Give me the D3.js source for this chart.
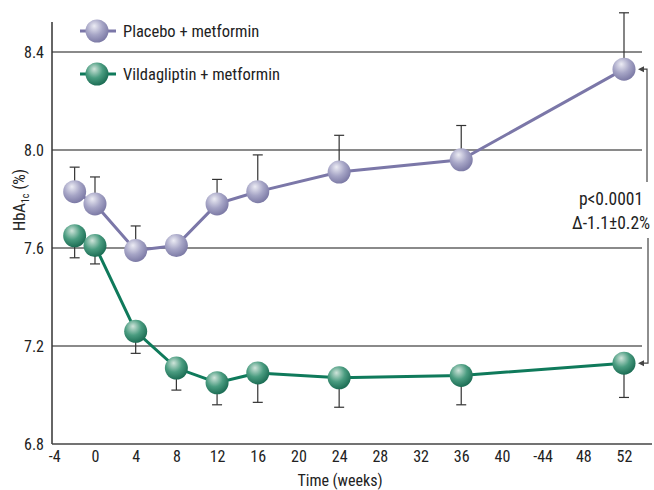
<!DOCTYPE html>
<html><head><meta charset="utf-8">
<script src="https://cdn.jsdelivr.net/npm/d3@7"></script>
<style>body{margin:0;background:#fff}svg{display:block}text{font-family:"Liberation Sans Narrow","Roboto Condensed","Liberation Sans",sans-serif}</style>
</head><body><div id="chart"></div>
<script>
const weeks = [-2, 0, 4, 8, 12, 16, 24, 36, 52];
const placebo = [7.83, 7.78, 7.59, 7.61, 7.78, 7.83, 7.91, 7.96, 8.33];
const placeboUpper = [7.93, 7.89, 7.69, 7.65, 7.88, 7.98, 8.06, 8.10, 8.56];
const vilda = [7.65, 7.61, 7.26, 7.11, 7.05, 7.09, 7.07, 7.08, 7.13];
const vildaLower = [7.56, 7.535, 7.17, 7.02, 6.96, 6.97, 6.95, 6.96, 6.99];
const xTicks = [-4, 0, 4, 8, 12, 16, 20, 24, 28, 32, 36, 40, 44, 48, 52];
const xTickLabels = ["-4","0","4","8","12","16","20","24","28","32","36","40","-44","48","52"];
const yTicks = [6.8, 7.2, 7.6, 8.0, 8.4];
const seriesNames = ["Placebo + metformin", "Vildagliptin + metformin"];

const W = 654, H = 490;
const svg = d3.select("#chart").append("svg").attr("width", W).attr("height", H);
const x = d3.scaleLinear().domain([-4, 52]).range([54.3, 624]);
const y = d3.scaleLinear().domain([6.8, 8.4]).range([444, 52]);
const x0 = 52, x1 = 642;

const defs = svg.append("defs");
function grad(id, hi, mid, lo) {
  const g = defs.append("radialGradient").attr("id", id).attr("cx", "40%").attr("cy", "35%").attr("r", "65%").attr("fx", "38%").attr("fy", "28%");
  g.append("stop").attr("offset", "0%").attr("stop-color", hi);
  g.append("stop").attr("offset", "55%").attr("stop-color", mid);
  g.append("stop").attr("offset", "100%").attr("stop-color", lo);
}
grad("gp", "#ececf4", "#a6a5c6", "#7d7ba6");
grad("gv", "#cfe4da", "#4a9c80", "#1d6e55");

svg.append("g").selectAll("line").data(yTicks.filter(d => d > 6.8)).join("line")
  .attr("x1", x0).attr("x2", x1).attr("y1", d => y(d)).attr("y2", d => y(d))
  .attr("stroke", "#8a8a8a").attr("stroke-width", 2);

const yAxis = d3.axisLeft(y).tickValues(yTicks).tickFormat(d3.format(".1f")).tickSize(0).tickPadding(8);
const gy = svg.append("g").attr("transform", `translate(${x0},0)`).call(yAxis);
gy.select(".domain").remove();
gy.selectAll("text").attr("font-size", 16).attr("fill", "#222");
svg.append("line").attr("x1", x0).attr("x2", x0).attr("y1", 22).attr("y2", 444).attr("stroke", "#333").attr("stroke-width", 1.5);
svg.append("line").attr("x1", x0).attr("x2", 652).attr("y1", 444).attr("y2", 444).attr("stroke", "#444").attr("stroke-width", 1.5);

const xAxis = d3.axisBottom(x).tickValues(xTicks).tickFormat((d, i) => xTickLabels[i]).tickSize(0).tickPadding(7);
const gx = svg.append("g").attr("transform", "translate(0,444)").call(xAxis);
gx.select(".domain").remove();
gx.selectAll("text").attr("font-size", 16).attr("fill", "#222");

svg.append("text").attr("x", 340).attr("y", 486).attr("text-anchor", "middle").attr("font-size", 16).attr("fill", "#222").text("Time (weeks)");
const yl = svg.append("text").attr("transform", "translate(25,200) rotate(-90)").attr("text-anchor", "middle").attr("font-size", 16.5).attr("fill", "#222");
yl.append("tspan").text("HbA");
yl.append("tspan").attr("font-size", 10).attr("dy", 4).text("1c");
yl.append("tspan").attr("dy", -4).text(" (%)");

function errBars(vals, ends) {
  const g = svg.append("g").attr("stroke", "#333").attr("stroke-width", 1.2);
  weeks.forEach((w, i) => {
    g.append("line").attr("x1", x(w)).attr("x2", x(w)).attr("y1", y(vals[i])).attr("y2", y(ends[i]));
    g.append("line").attr("x1", x(w) - 5).attr("x2", x(w) + 5).attr("y1", y(ends[i])).attr("y2", y(ends[i]));
  });
}
errBars(placebo, placeboUpper);
errBars(vilda, vildaLower);

const line = d3.line().x((d, i) => x(weeks[i])).y(d => y(d));
svg.append("path").datum(placebo).attr("d", line).attr("fill", "none").attr("stroke", "#7b77a8").attr("stroke-width", 3);
svg.append("path").datum(vilda).attr("d", line).attr("fill", "none").attr("stroke", "#0f7a5b").attr("stroke-width", 3);

svg.append("g").selectAll("circle").data(placebo).join("circle")
  .attr("cx", (d, i) => x(weeks[i])).attr("cy", d => y(d)).attr("r", 11.5).attr("fill", "url(#gp)");
svg.append("g").selectAll("circle").data(vilda).join("circle")
  .attr("cx", (d, i) => x(weeks[i])).attr("cy", d => y(d)).attr("r", 11.5).attr("fill", "url(#gv)");

const legend = [{name: seriesNames[0], c: "#7b77a8", f: "url(#gp)", y: 31}, {name: seriesNames[1], c: "#0f7a5b", f: "url(#gv)", y: 74}];
legend.forEach(l => {
  svg.append("line").attr("x1", 80).attr("x2", 116).attr("y1", l.y).attr("y2", l.y).attr("stroke", l.c).attr("stroke-width", 3);
  svg.append("circle").attr("cx", 97).attr("cy", l.y).attr("r", 11.5).attr("fill", l.f);
  svg.append("text").attr("x", 123).attr("y", l.y + 6).attr("font-size", 16.5).attr("fill", "#222").text(l.name);
});

const ya = y(placebo[8]), yb = y(vilda[8]);
const bx = 647;
const ann = svg.append("g").attr("stroke", "#444").attr("stroke-width", 1.2).attr("fill", "none");
ann.append("path").attr("d", `M${bx},182 V${ya} H642`);
ann.append("path").attr("d", `M${bx + 1},238 V${yb} H642`);
svg.append("path").attr("d", `M638,${ya} l6,-3 v6 z`).attr("fill", "#444");
svg.append("path").attr("d", `M638,${yb} l6,-3 v6 z`).attr("fill", "#444");
svg.append("text").attr("x", 611).attr("y", 205).attr("text-anchor", "middle").attr("font-size", 17.5).attr("fill", "#222").text("p<0.0001");
svg.append("text").attr("x", 611).attr("y", 229).attr("text-anchor", "middle").attr("font-size", 17.5).attr("fill", "#222").text("Δ-1.1±0.2%");
</script></body></html>
